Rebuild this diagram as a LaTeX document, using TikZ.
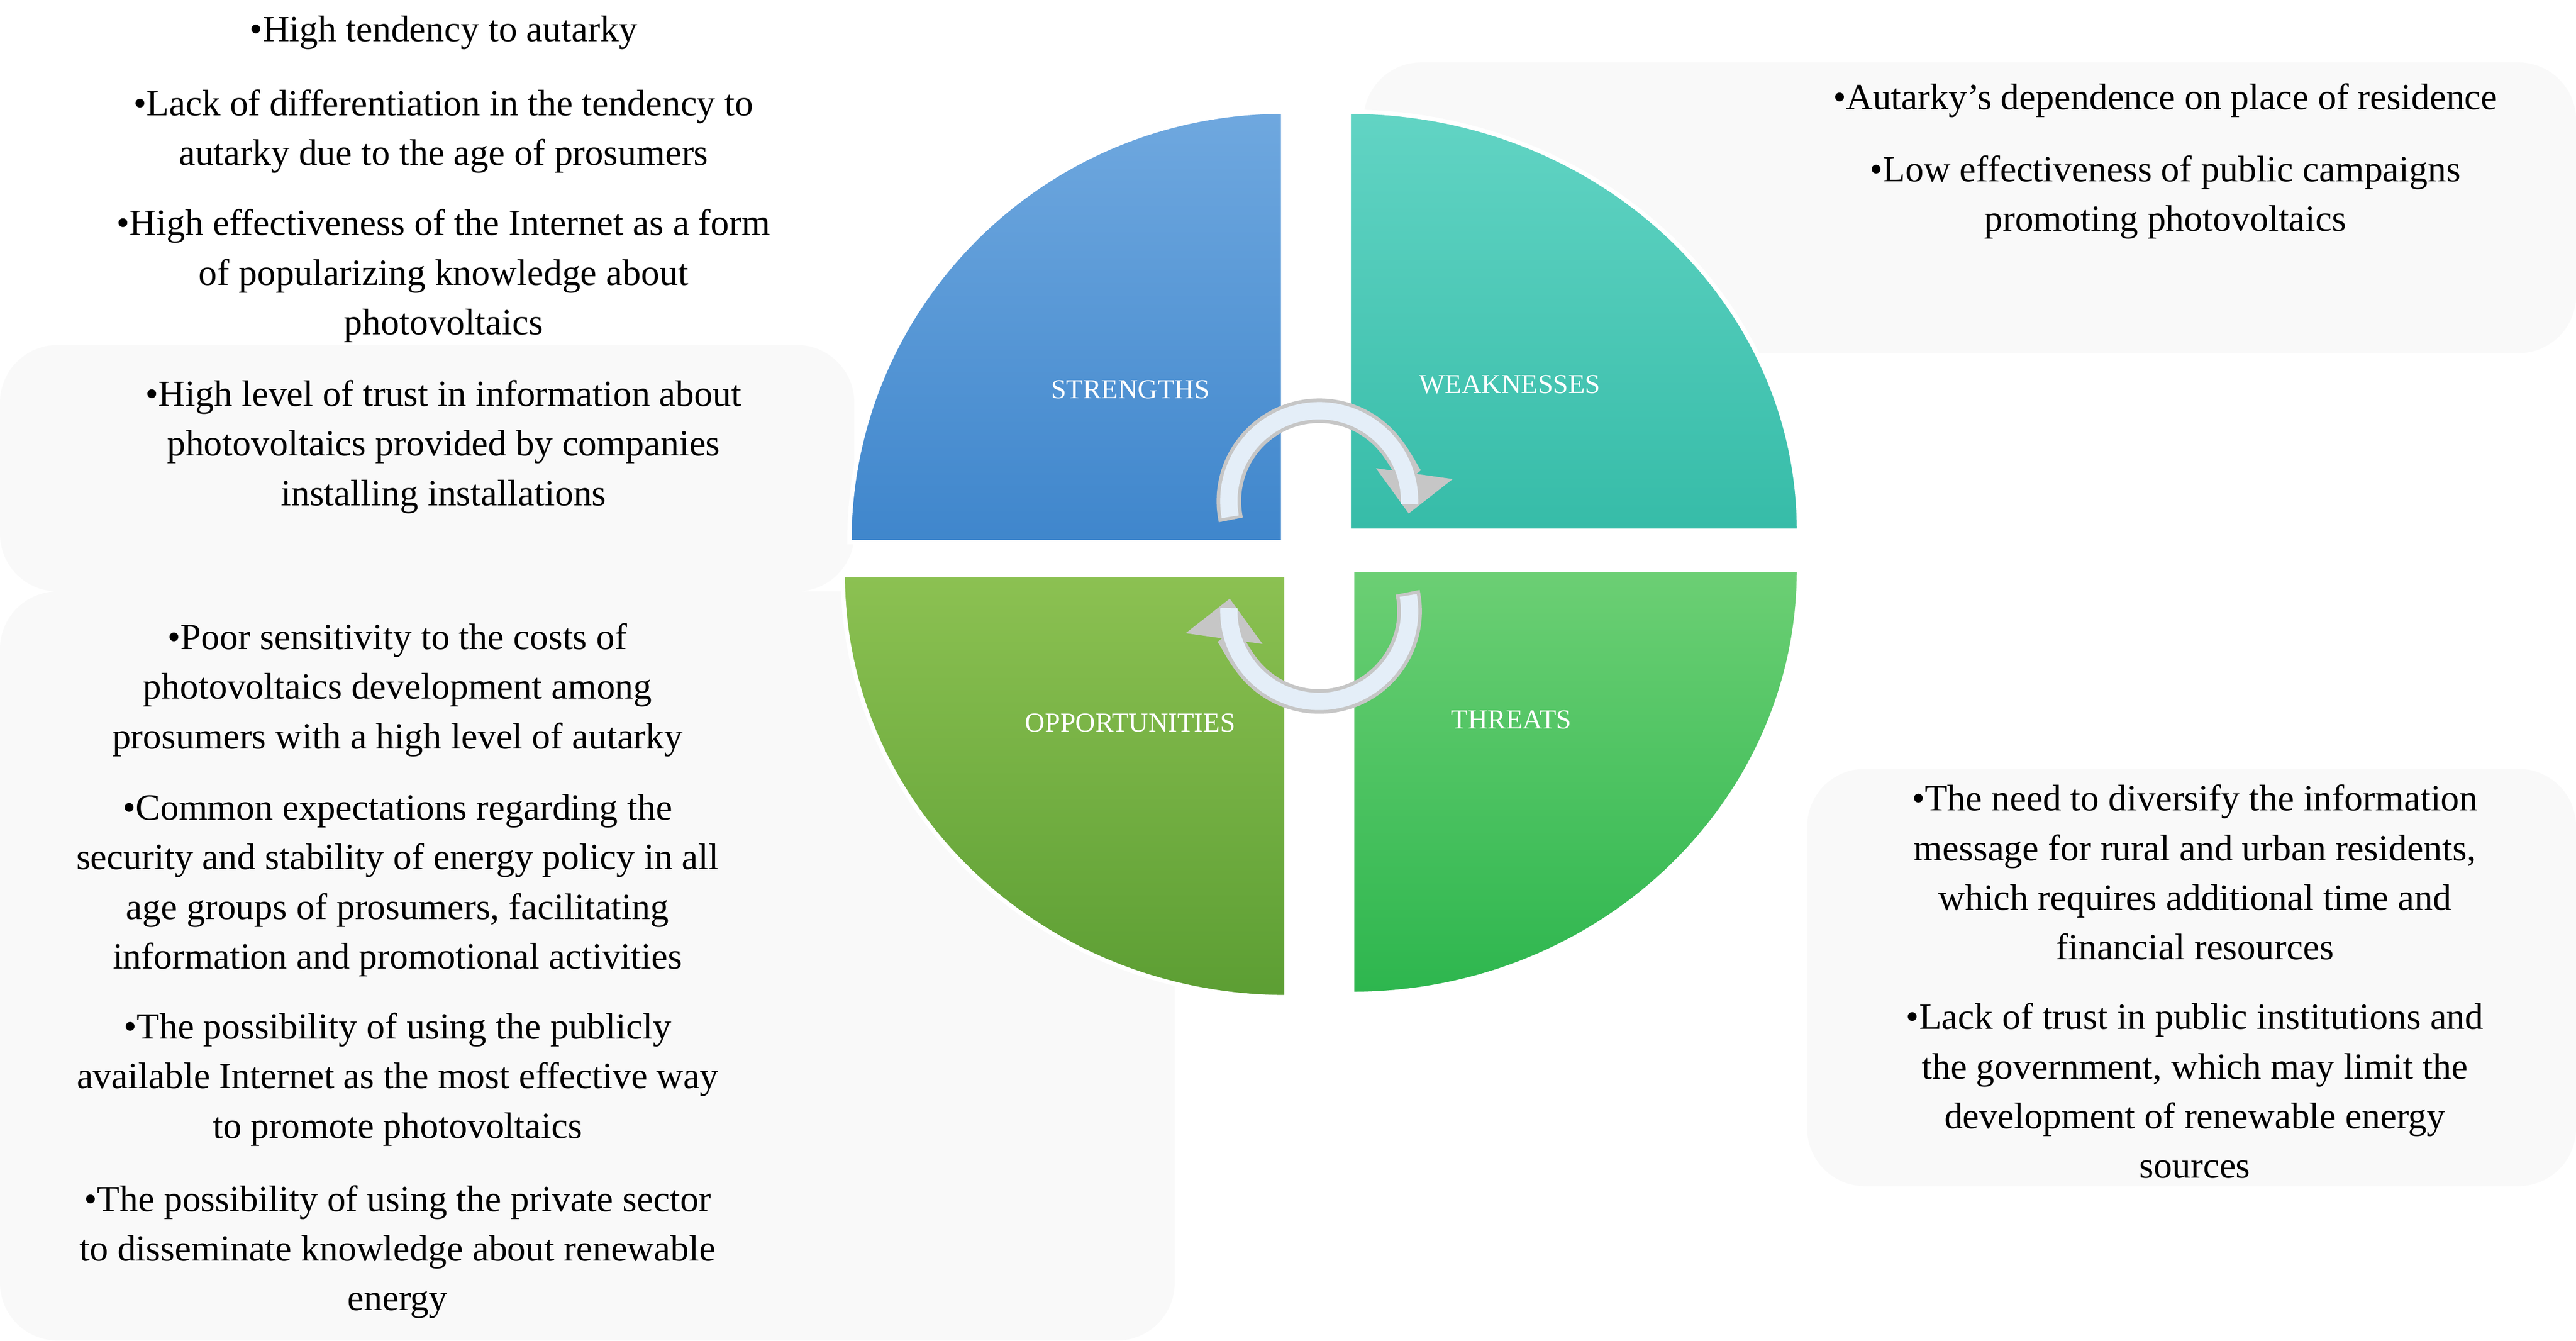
\documentclass[tikz,border=0pt]{standalone}
\usepackage{fontspec}
\setmainfont{Liberation Serif}
\usetikzlibrary{arrows.meta}
\definecolor{sA}{HTML}{6FA8DF}\definecolor{sB}{HTML}{3F86CC}
\definecolor{wA}{HTML}{62D4C4}\definecolor{wB}{HTML}{36BCA8}
\definecolor{oA}{HTML}{8CC152}\definecolor{oB}{HTML}{5C9E33}
\definecolor{tA}{HTML}{6CCF74}\definecolor{tB}{HTML}{2DB64E}
\definecolor{arr}{HTML}{E4EEF8}
\tikzset{
 txt/.style={align=center,font=\fontsize{12.8}{17.2}\selectfont,inner sep=0pt},
 lab/.style={font=\fontsize{9.5}{11}\selectfont,text=white,inner sep=0pt},
 panel/.style={fill=black!2.5,draw=none,rounded corners=20},
 quad/.style={draw=white,line width=1.5pt},
 cyc/.style={line width=8.5,draw=gray!45,-{Triangle[length=14,width=26]}},
 cycin/.style={line width=6,draw=arr}
}
\begin{document}
\begin{tikzpicture}[x=0.02cm,y=-0.02cm]
\useasboundingbox (0,0) rectangle (1568,816);
\fill[white] (0,0) rectangle (1568,816);
\fill[panel] (0,210) rectangle (520,360);
\fill[panel] (0,360) rectangle (715,816);
\fill[panel] (830,38) rectangle (1568,215);
\fill[panel] (1100,468) rectangle (1568,722);
% quadrants
\path[quad,shade,top color=sA,bottom color=sB] (781,330) -- (517,330) arc[start angle=180,end angle=270,x radius=264,y radius=262] -- cycle;
\path[quad,shade,top color=wA,bottom color=wB] (821,323) -- (821,68) arc[start angle=270,end angle=360,x radius=274,y radius=255] -- cycle;
\path[quad,shade,top color=oA,bottom color=oB] (783,350) -- (513,350) arc[start angle=180,end angle=90,x radius=270,y radius=257] -- cycle;
\path[quad,shade,top color=tA,bottom color=tB] (823,347) -- (1095,347) arc[start angle=0,end angle=90,x radius=272,y radius=258] -- cycle;
\node[lab] (s) at (688,237) {STRENGTHS};
\node[lab] (w) at (919,234) {WEAKNESSES};
\node[lab] (o) at (688,440) {OPPORTUNITIES};
\node[lab] (t) at (920,438) {THREATS};
% cycle arrows
\coordinate (c1) at (803,305);
\coordinate (c2) at (803,372);
\draw[cyc] (c1) ++(168:55) arc[start angle=168,end angle=368,radius=55];
\draw[cycin] (c1) ++(170:55) arc[start angle=170,end angle=362,radius=55];
\draw[cyc] (c2) ++(-12:55) arc[start angle=-12,end angle=188,radius=55];
\draw[cycin] (c2) ++(-10:55) arc[start angle=-10,end angle=182,radius=55];
% texts
\node[txt] (s1) at (270,20) {•High tendency to autarky};
\node[txt] (s2) at (270,80) {•Lack of differentiation in the tendency to\\autarky due to the age of prosumers};
\node[txt] (s3) at (270,168) {•High effectiveness of the Internet as a form\\of popularizing knowledge about\\photovoltaics};
\node[txt] (s4) at (270,272) {•High level of trust in information about\\photovoltaics provided by companies\\installing installations};
\node[txt] (w1) at (1318,61) {•Autarky's dependence on place of residence};
\node[txt] (w2) at (1318,120) {•Low effectiveness of public campaigns\\promoting photovoltaics};
\node[txt] (o1) at (242,420) {•Poor sensitivity to the costs of\\photovoltaics development among\\prosumers with a high level of autarky};
\node[txt] (o2) at (242,539) {•Common expectations regarding the\\security and stability of energy policy in all\\age groups of prosumers, facilitating\\information and promotional activities};
\node[txt] (o3) at (242,657) {•The possibility of using the publicly\\available Internet as the most effective way\\to promote photovoltaics};
\node[txt] (o4) at (242,762) {•The possibility of using the private sector\\to disseminate knowledge about renewable\\energy};
\node[txt] (t1) at (1336,531) {•The need to diversify the information\\message for rural and urban residents,\\which requires additional time and\\financial resources};
\node[txt] (t2) at (1336,664) {•Lack of trust in public institutions and\\the government, which may limit the\\development of renewable energy\\sources};
\end{tikzpicture}
\end{document}
